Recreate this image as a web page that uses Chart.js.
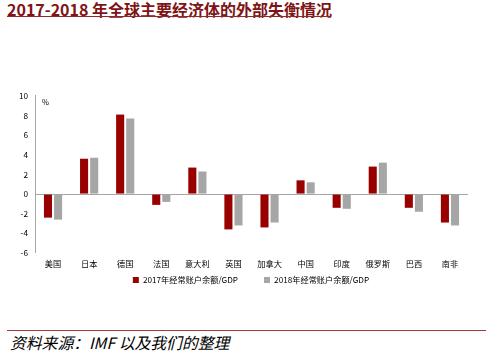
<!DOCTYPE html>
<html>
<head>
<meta charset="utf-8">
<script src="https://cdn.jsdelivr.net/npm/chart.js@4"></script>
<style>
html,body{margin:0;padding:0;background:#fff;width:502px;height:357px;overflow:hidden;position:relative;}
#title{position:absolute;left:7px;top:-3px;font-family:"Noto Sans CJK SC";font-weight:bold;font-size:16px;color:#7f1416;white-space:nowrap;}
#tline{position:absolute;left:7px;top:16px;width:323px;height:1px;background:#8b2a2a;}
#bline{position:absolute;left:7px;top:330px;width:479px;height:1px;background:#a33a36;}
#src{position:absolute;left:10px;top:331px;font-family:"Noto Sans CJK SC";font-style:italic;font-size:15.8px;color:#000;white-space:nowrap;}
#pct{position:absolute;left:42px;top:96px;font-family:"Noto Sans CJK SC";font-size:7.5px;color:#000;}
#wrap{position:absolute;left:0;top:84px;width:502px;height:235px;}
</style>
</head>
<body>
<div id="title">2017-2018 年全球主要经济体的外部失衡情况</div>
<div id="tline"></div>
<div id="wrap"><canvas id="c"></canvas></div>
<div id="pct">%</div>
<div id="bline"></div>
<div id="src">资料来源：IMF 以及我们的整理</div>
<script>
const categories = ["美国","日本","德国","法国","意大利","英国","加拿大","中国","印度","俄罗斯","巴西","南非"];
const series2017 = [-2.4, 3.6, 8.1, -1.1, 2.7, -3.6, -3.4, 1.4, -1.4, 2.8, -1.4, -2.9];
const series2018 = [-2.6, 3.7, 7.7, -0.8, 2.3, -3.2, -2.9, 1.2, -1.5, 3.2, -1.8, -3.2];
const seriesNames = ["2017年经常账户余额/GDP","2018年经常账户余额/GDP"];
const yTicks = [10, 8, 6, 4, 2, 0, -2, -4, -6];

const font = {family: "Noto Sans CJK SC", size: 8.2};

// place the legend just under the category labels, centred on the page (as in the reference)
const legendShift = {
  id: 'legendShift',
  afterLayout(chart) {
    const lg = chart.legend;
    if (!lg) return;
    const target = chart.chartArea.bottom + 27; // centre of legend row
    const cur = lg.top + lg.options.labels.padding + 4.1;
    const dy = target - cur;
    lg.top += dy; lg.bottom += dy;
    const dx = 251 - (lg.left + lg.right) / 2;
    lg.left += dx; lg.right += dx;
  }
};

new Chart(document.getElementById('c'), {
  type: 'bar',
  data: {
    labels: categories,
    datasets: [
      {label: seriesNames[0], data: series2017, backgroundColor: '#990000', categoryPercentage: 0.56, barPercentage: 0.8},
      {label: seriesNames[1], data: series2018, backgroundColor: '#a6a6a6', categoryPercentage: 0.56, barPercentage: 0.8}
    ]
  },
  plugins: [legendShift],
  options: {
    responsive: true,
    maintainAspectRatio: false,
    animation: false,
    layout: {padding: {left: 0, right: 34, top: 3, bottom: 0}},
    plugins: {
      legend: {
        position: 'bottom',
        labels: {boxWidth: 6, boxHeight: 6, font: font, color: '#000', padding: 26}
      },
      tooltip: {enabled: false}
    },
    scales: {
      x: {
        grid: {display: false, drawTicks: false},
        border: {display: false},
        ticks: {font: font, color: '#000', maxRotation: 0, autoSkip: false, padding: 6}
      },
      y: {
        min: -6, max: 10,
        afterFit: s => { s.width = 35; },
        afterBuildTicks: s => { s.ticks = yTicks.map(v => ({value: v})); },
        grid: {
          drawTicks: false,
          color: ctx => (ctx.tick && ctx.tick.value === 0) ? '#a6a6a6' : 'rgba(0,0,0,0)',
          lineWidth: 1
        },
        border: {display: true, color: '#a6a6a6'},
        ticks: {font: font, color: '#000', padding: 7}
      }
    }
  }
});
</script>
</body>
</html>
